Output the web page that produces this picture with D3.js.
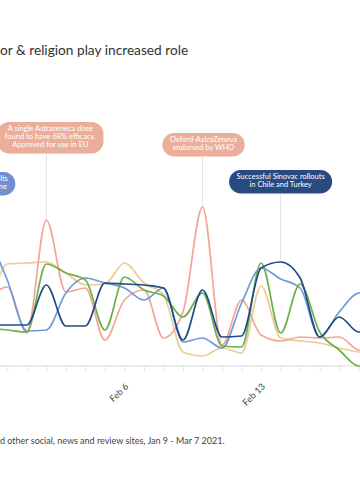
<!DOCTYPE html>
<html><head><meta charset="utf-8">
<script src="https://cdn.jsdelivr.net/npm/d3@7"></script>
<style>
html,body{margin:0;padding:0;background:#fff;}
svg{display:block;font-family:Lato,"Open Sans",sans-serif;}
</style></head><body>
<svg id="chart" width="360" height="500"></svg>
<script>
// ---- data ----
const dates = ["2021-01-30","2021-01-31","2021-02-01","2021-02-02","2021-02-03","2021-02-04","2021-02-05",
  "2021-02-06","2021-02-07","2021-02-08","2021-02-09","2021-02-10","2021-02-11","2021-02-12",
  "2021-02-13","2021-02-14","2021-02-15","2021-02-16","2021-02-17","2021-02-18","2021-02-19"];
const seriesNames = ["Tan","Pink","Light blue","Green","Dark blue"];
const tanValues   = [23, 51, 51.5, 52, 46.5, 40.5, 41, 51.5, 41.5, 35.5, 7, 5, 9, 6.5, 40, 14, 12.5, 11.5, 9, 7, 6.5];
const pinkValues  = [33, 39.5, 16.5, 73, 37, 39, 13, 33, 38, 14, 27, 79.5, 10.5, 33, 15.5, 12.5, 14.5, 14, 14.5, 8, 7];
const lightBlueValues = [65.5, 43, 17.5, 18, 36.5, 44, 41.5, 39, 33, 39, 12, 14, 9, 31.5, 49, 43.5, 39, 14.5, 27, 36.5, 37];
const greenValues = [19, 18, 17, 51, 46.5, 43, 18, 44.5, 38, 35, 24.5, 36.5, 10, 9.5, 51.5, 16.5, 41, 17, 8, 0, 0];
const darkBlueValues = [20.5, 20.5, 20.5, 40.5, 20, 20, 41.5, 41, 40.5, 39, 13, 38, 14.5, 15, 49, 52, 44, 14.5, 24.5, 17, 17];
const tickLabels = ["Jan 30","Feb 6","Feb 13"];
const title = "or & religion play increased role";
const caption = "d other social, news and review sites, Jan 9 - Mar 7 2021.";
const annotationDates = ["2021-01-30","2021-02-02","2021-02-10","2021-02-14"];
const annotationSeries = [2, 1, 1, 4];
const annotationTexts = [
  ["Positive trial results","for Sputnik vaccine"],
  ["A single Astrazeneca dose","found to have 68% efficacy.","Approved for use in EU"],
  ["Oxford-AstraZeneva","endorsed by WHO"],
  ["Successful Sinovac rollouts","in Chile and Turkey"]
];

// ---- styles / layout ----
const colors = ["#EBCB98","#F5A596","#7099D8","#6DB04A","#1F4B88"];
const boxColors = ["#6F8FD1","#EBAE9B","#EBAE9B","#274B80"];
const boxTops = [172, 122, 133, 170];
const boxDx = [-12, 4, 1, 0];

const parse = d3.timeParse("%Y-%m-%d");
const fmt = d3.timeFormat("%b %-d");
const xDates = dates.map(parse);
const svg = d3.select("#chart");

const x = d3.scaleTime().domain([parse("2021-01-31"), parse("2021-02-18")]).range([7.3, 358.7]);
const y = d3.scaleLinear().domain([0, 100]).range([366, 166]);

// title & caption
svg.append("text").attr("x", 0).attr("y", 55).attr("font-size", 13.7).attr("fill", "#333").text(title);
svg.append("text").attr("x", 0).attr("y", 444).attr("font-size", 9).attr("fill", "#444").text(caption);

// axis
const axisG = svg.append("g").attr("transform", "translate(0,366)");
axisG.append("line").attr("x1", 0).attr("x2", 360).attr("stroke", "#e6e6e6").attr("stroke-width", 1.5);
axisG.call(d3.axisBottom(x).ticks(d3.timeDay.every(1)).tickSize(5)
  .tickFormat(d => tickLabels.includes(fmt(d)) ? fmt(d) : ""));
axisG.select(".domain").remove();
axisG.selectAll(".tick line").attr("stroke", "#e3e3e3");
axisG.selectAll(".tick text").attr("x", 0).attr("y", 0).attr("dy", 0)
  .attr("text-anchor", "end").attr("font-size", 9).attr("fill", "#444")
  .attr("font-family", "Lato, sans-serif")
  .attr("transform", "translate(4,21) rotate(-45)");

const allSeries = [tanValues, pinkValues, lightBlueValues, greenValues, darkBlueValues];

// annotation connector lines
annotationDates.forEach((d, i) => {
  const xd = x(parse(d));
  const idx = dates.indexOf(d);
  const nl = annotationTexts[i].length;
  const bottom = boxTops[i] + nl * 8 + 7.5;
  svg.append("line").attr("x1", xd).attr("x2", xd).attr("y1", bottom).attr("y2", y(allSeries[annotationSeries[i]][idx]))
    .attr("stroke", "#e8e2e2").attr("stroke-width", 1);
});

// lines
const line = d3.line().x((d, i) => x(xDates[i])).y(d => y(d)).curve(d3.curveMonotoneX);
allSeries.forEach((vals, i) => {
  svg.append("path").datum(vals).attr("d", line).attr("fill", "none")
    .attr("stroke", colors[i]).attr("stroke-width", 1.7);
});

// annotation boxes
annotationDates.forEach((d, i) => {
  const cx = x(parse(d)) + boxDx[i];
  const lines = annotationTexts[i];
  const g = svg.append("g");
  const t = g.append("text").attr("text-anchor", "middle").attr("font-size", 7.5).attr("fill", "#fff");
  lines.forEach((l, j) => t.append("tspan").attr("x", cx).attr("y", boxTops[i] + 8.5 + j * 8).text(l));
  const w = t.node().getBBox().width + 15;
  const h = lines.length * 8 + 7.5;
  g.insert("rect", "text").attr("x", cx - w / 2).attr("y", boxTops[i]).attr("width", w).attr("height", h)
    .attr("rx", Math.min(h / 2, 12)).attr("fill", boxColors[i]);
});
</script>
</body></html>
